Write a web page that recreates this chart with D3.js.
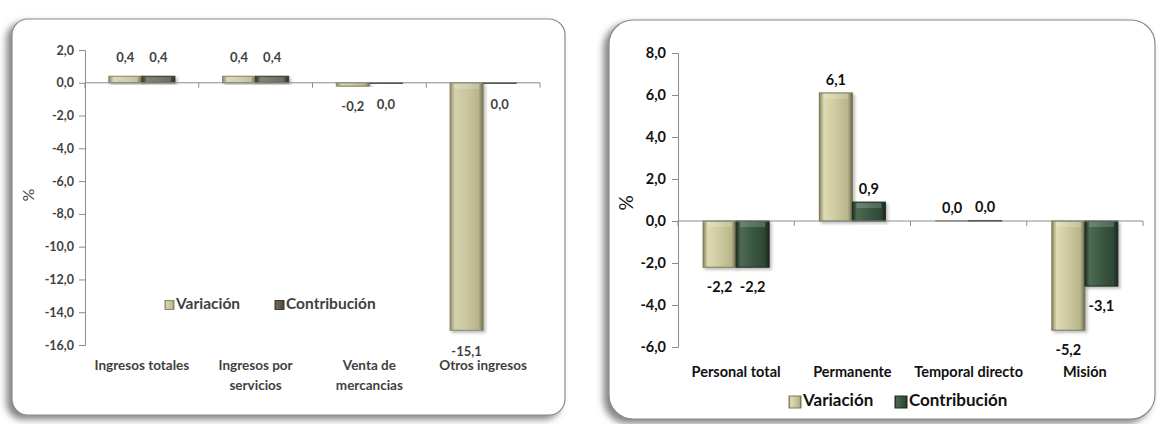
<!DOCTYPE html>
<html><head><meta charset="utf-8">
<script src="https://cdn.jsdelivr.net/npm/d3@7"></script>
<style>html,body{margin:0;padding:0;background:#fff;}svg{display:block;}</style>
</head><body>
<svg id="c" width="1161" height="424"></svg>
<script>
// ---- Data ----
const leftCategories = [["Ingresos totales"], ["Ingresos por", "servicios"], ["Venta de", "mercancias"], ["Otros ingresos"]];
const leftVariacion = [0.4, 0.4, -0.2, -15.1];
const leftContribucion = [0.4, 0.4, -0.04, -0.04];
const leftTicks = [2, 0, -2, -4, -6, -8, -10, -12, -14, -16];

const rightCategories = [["Personal total"], ["Permanente"], ["Temporal directo"], ["Misión"]];
const rightVariacion = [-2.2, 6.1, 0.01, -5.2];
const rightContribucion = [-2.2, 0.9, 0.04, -3.1];
const rightTicks = [8, 6, 4, 2, 0, -2, -4, -6];

const seriesNames = ["Variación", "Contribución"];

const svg = d3.select("#c");
const defs = svg.append("defs");

const f = defs.append("filter").attr("id", "pshadow").attr("x", "-10%").attr("y", "-10%").attr("width", "120%").attr("height", "120%");
f.append("feDropShadow").attr("dx", -5).attr("dy", 4).attr("stdDeviation", 3.5).attr("flood-color", "#666").attr("flood-opacity", 0.8);
const fb = defs.append("filter").attr("id", "bshadow").attr("x", "-30%").attr("y", "-10%").attr("width", "160%").attr("height", "130%");
fb.append("feDropShadow").attr("dx", 2).attr("dy", 2).attr("stdDeviation", 1.5).attr("flood-color", "#555").attr("flood-opacity", 0.4);

function grad(id, stops) {
  const g = defs.append("linearGradient").attr("id", id).attr("x1", 0).attr("x2", 1).attr("y1", 0).attr("y2", 0);
  stops.forEach(s => g.append("stop").attr("offset", s[0]).attr("stop-color", s[1]));
}
grad("varL", [["0", "#8d8a68"], ["0.14", "#d3d0ac"], ["0.5", "#cac6a0"], ["0.86", "#b8b48c"], ["1", "#6f6c50"]]);
grad("conL", [["0", "#3e3d33"], ["0.14", "#6b6a5a"], ["0.5", "#5e5d4e"], ["0.86", "#4f4e42"], ["1", "#35342b"]]);
grad("varR", [["0", "#86835c"], ["0.14", "#dedbb4"], ["0.5", "#cdc9a0"], ["0.86", "#b9b58b"], ["1", "#6a674a"]]);
grad("conR", [["0", "#1f2d22"], ["0.14", "#4d6b52"], ["0.5", "#3b5842"], ["0.86", "#2f4734"], ["1", "#1a261c"]]);

function fmt(v) {
  let r = Math.round(v * 10) / 10;
  if (r === 0) r = 0;
  return r.toFixed(1).replace(".", ",").replace("-0,0", "0,0");
}

function drawChart(o) {
  const g = svg.append("g");
  g.append("rect").attr("x", o.panel[0]).attr("y", o.panel[1]).attr("width", o.panel[2]).attr("height", o.panel[3])
    .attr("rx", o.radius).attr("ry", o.radius).attr("fill", "#fff").attr("stroke", "#8a8a8a").attr("stroke-width", 1.2)
    .attr("filter", "url(#pshadow)");

  const y = d3.scaleLinear().domain(o.yDomain).range(o.yRange);
  const x0 = d3.scaleBand().domain(d3.range(o.cats.length)).range(o.xRange);
  const x1 = d3.scaleBand().domain(seriesNames).range([0, x0.bandwidth()]).paddingOuter(o.padOuter).paddingInner(0);

  const yAxis = d3.axisLeft(y).tickValues(o.ticks).tickSize(6).tickPadding(o.tickPad).tickFormat(fmt);
  const ya = g.append("g").attr("transform", `translate(${o.xRange[0]},0)`).call(yAxis);
  ya.select(".domain").attr("stroke", "#8c8c8c");
  ya.selectAll(".tick line").attr("stroke", "#8c8c8c");
  ya.selectAll(".tick text").attr("fill", o.textColor).style("font-family", o.font).style("font-size", o.tickSize + "px").style("font-weight", "bold");

  const series = [
    { name: seriesNames[0], values: o.var, fill: o.varFill, stroke: o.varStroke },
    { name: seriesNames[1], values: o.con, fill: o.conFill, stroke: o.conStroke }
  ];
  series.forEach(s => {
    g.append("g").selectAll("rect").data(s.values).join("rect")
      .attr("x", (d, i) => x0(i) + x1(s.name))
      .attr("width", x1.bandwidth())
      .attr("y", d => Math.min(y(d), y(0)))
      .attr("height", d => Math.abs(y(d) - y(0)))
      .attr("fill", s.fill).attr("stroke", s.stroke).attr("stroke-width", 1)
      .attr("filter", "url(#bshadow)");
  });
  series.forEach(s => {
    g.append("g").selectAll("rect").data(s.values).join("rect")
      .attr("x", (d, i) => x0(i) + x1(s.name) + 4)
      .attr("width", Math.max(0, x1.bandwidth() - 8))
      .attr("y", d => d >= 0 ? y(d) + 1 : y(0) + 1)
      .attr("height", d => Math.min(5, Math.max(0, Math.abs(y(d) - y(0)) - 2)))
      .attr("fill", "#ffffff").attr("opacity", 0.18);
  });

  g.append("line").attr("x1", o.xRange[0]).attr("x2", o.xRange[1]).attr("y1", y(0)).attr("y2", y(0))
    .attr("stroke", "#8c8c8c").attr("stroke-width", 1);
  const bounds = d3.range(o.cats.length + 1).map(i => o.xRange[0] + i * x0.step());
  g.append("g").selectAll("line").data(bounds).join("line")
    .attr("x1", d => d).attr("x2", d => d).attr("y1", y(0)).attr("y2", y(0) + 5)
    .attr("stroke", "#8c8c8c");

  series.forEach(s => {
    g.append("g").selectAll("text").data(s.values).join("text")
      .attr("x", (d, i) => x0(i) + x1(s.name) + x1.bandwidth() / 2)
      .attr("y", d => d > 0.02 ? y(d) - o.offUp : (d >= 0 ? y(0) - o.offUp : y(d) + o.offDown))
      .attr("text-anchor", "middle").attr("dominant-baseline", "middle")
      .attr("fill", o.textColor).style("font-family", o.font).style("font-size", o.labelSize + "px").style("font-weight", "bold")
      .text(d => fmt(d));
  });

  o.cats.forEach((lines, i) => {
    const t = g.append("text").attr("x", x0(i) + x0.bandwidth() / 2).attr("y", o.catY)
      .attr("text-anchor", "middle").attr("dominant-baseline", "middle")
      .attr("fill", o.textColor).style("font-family", o.font).style("font-size", o.catSize + "px").style("font-weight", "bold");
    lines.forEach((ln, j) => t.append("tspan").attr("x", x0(i) + x0.bandwidth() / 2).attr("dy", j === 0 ? 0 : o.catLine).text(ln));
  });

  g.append("text").attr("transform", `translate(${o.pct[0]},${o.pct[1]}) rotate(-90)`)
    .attr("text-anchor", "middle").attr("dominant-baseline", "middle")
    .attr("fill", o.textColor).style("font-family", o.font).style("font-size", o.pctSize + "px")
    .text("%");

  const lg = g.append("g");
  o.legend.forEach((lx, i) => {
    lg.append("rect").attr("x", lx).attr("y", o.legY - o.legBox / 2).attr("width", o.legBox).attr("height", o.legBox)
      .attr("fill", i === 0 ? o.varFill : o.conFill).attr("stroke", i === 0 ? o.varStroke : o.conStroke);
    lg.append("text").attr("x", lx + o.legBox + 2).attr("y", o.legY).attr("dominant-baseline", "middle")
      .attr("fill", o.textColor).style("font-family", o.font).style("font-size", o.legSize + "px").style("font-weight", "bold")
      .text(seriesNames[i]);
  });
}

drawChart({
  panel: [12, 19, 553, 396], radius: 16,
  cats: leftCategories, var: leftVariacion, con: leftContribucion, ticks: leftTicks,
  yDomain: [-16, 2], yRange: [345, 50], xRange: [85, 540], padOuter: 0.72,
  font: "Lato, 'Liberation Sans', sans-serif", textColor: "#3f3f3f",
  tickSize: 12.5, tickPad: 5, labelSize: 13, catSize: 13.5, catY: 367, catLine: 20,
  offUp: 18, offDown: 22, pct: [30, 195], pctSize: 16,
  varFill: "url(#varL)", varStroke: "#8b8868", conFill: "url(#conL)", conStroke: "#3c3b32",
  legend: [165, 275], legY: 305, legBox: 9, legSize: 15.5
});

drawChart({
  panel: [609, 20, 546, 399], radius: 24,
  cats: rightCategories, var: rightVariacion, con: rightContribucion, ticks: rightTicks,
  yDomain: [-6, 8], yRange: [347, 53], xRange: [678, 1143], padOuter: 0.76,
  font: "Lato, 'Liberation Sans', sans-serif", textColor: "#111",
  tickSize: 14.5, tickPad: 6, labelSize: 14.5, catSize: 14.5, catY: 373, catLine: 16,
  offUp: 12, offDown: 21, pct: [628, 203], pctSize: 19,
  varFill: "url(#varR)", varStroke: "#7c7956", conFill: "url(#conR)", conStroke: "#1e2b20",
  legend: [789, 895], legY: 402, legBox: 12, legSize: 17
});
</script>
</body></html>
